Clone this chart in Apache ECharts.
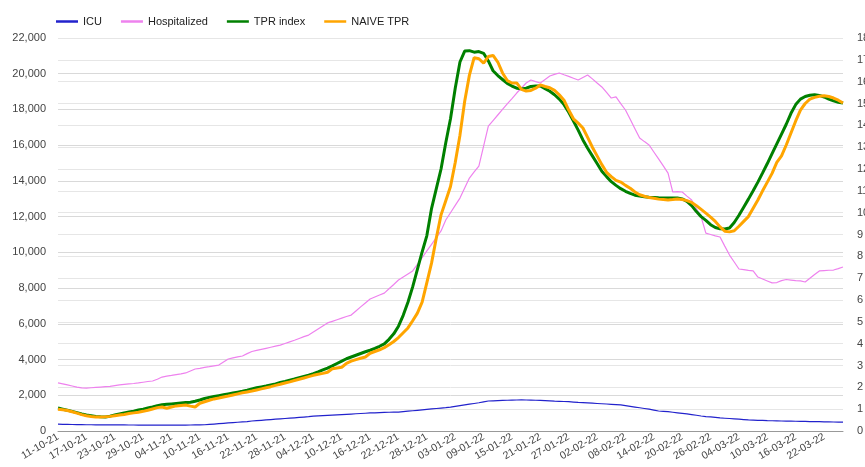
<!DOCTYPE html>
<html>
<head>
<meta charset="utf-8">
<script src="https://cdn.jsdelivr.net/npm/echarts@6/dist/echarts.min.js"></script>
<style>
  html, body { margin: 0; padding: 0; background: #fff; }
  #chart { width: 865px; height: 467px; }
</style>
</head>
<body>
<div id="chart"></div>
<script>
// daily categories, 11-10-21 .. 26-03-22
const startDate = new Date(2021, 9, 11);
const dayCount = 167;
const dates = Array.from({length: dayCount}, (_, i) => {
  const d = new Date(startDate.getFullYear(), startDate.getMonth(), startDate.getDate() + i);
  const p = n => String(n).padStart(2, '0');
  return `${p(d.getDate())}-${p(d.getMonth() + 1)}-${String(d.getFullYear()).slice(2)}`;
});

// left axis (people)
const icu = [
  380,375,370,365,360,355,350,350,345,345,340,340,340,
  340,338,336,335,333,332,330,330,330,330,330,330,330,332,334,336,338,340,
  350,370,390,410,430,450,470,490,510,530,560,
  580,600,620,640,660,680,700,720,740,760,780,800,830,
  845,860,875,890,905,920,935,950,965,980,995,1010,1020,1030,1040,1050,1055,1060,
  1085,1110,1135,1160,1185,1210,1235,1260,1285,1310,1340,
  1380,1420,1460,1500,1540,1580,1630,1680,
  1690,1700,1710,1720,1730,1735,1740,
  1735,1730,1720,1710,1700,1690,
  1670,1660,1650,1640,1620,1600,1585,1570,
  1555,1540,1525,1510,1495,1480,1460,
  1420,1380,1340,1300,1260,1220,1170,1120,
  1100,1080,1050,1020,990,960,920,880,840,
  810,790,760,730,
  715,700,680,660,640,620,
  610,600,590,580,575,570,560,
  555,550,545,540,535,530,525,520,515,510,505,500,500
];
const hospitalized = [
  2690,2640,2580,2520,2460,2410,
  2400,2420,2440,2460,
  2480,2500,2540,2580,
  2610,2640,2660,2690,
  2730,2770,2800,
  2900,3020,
  3070,3110,3160,3200,3250,
  3360,3470,
  3510,3560,3600,3650,3690,
  3860,4030,
  4090,4150,4200,
  4330,4450,
  4510,4570,4630,4690,4750,4810,
  4900,4990,5080,5180,5280,5370,
  5540,5710,5880,6050,
  6140,6230,6320,6410,6490,
  6720,6950,7170,7390,
  7500,7610,7720,
  7960,8200,8450,
  8620,8790,8960,
  9330,9700,10080,
  10450,10820,11200,
  11810,
  12220,12630,13040,
  13600,14160,
  14500,14830,
  15950,17070,
  17380,17690,
  18000,18310,18610,18920,
  19200,19480,19650,
  19560,19480,
  19680,19870,
  19960,20040,
  19940,19850,19750,19650,
  19790,19930,
  19710,19480,19260,
  18950,18640,18700,
  18330,17970,
  17450,16920,16400,
  16200,16010,
  15620,15230,14840,14440,
  13380,
  13400,13380,
  13150,12930,
  12450,11980,
  11080,
  11000,10920,10860,
  10350,9850,
  9460,9070,
  9030,8990,8960,
  8620,
  8510,8400,8290,
  8310,8420,
  8480,8450,8420,8400,8340,
  8550,8760,8960,
  8980,9000,9010,
  9090,9180
];

// right axis (index)
const tprIndex = [
  1.05,1.00,0.95,0.90,0.84,0.78,0.73,0.70,0.67,0.65,
  0.64,0.68,0.73,0.78,0.83,0.87,0.91,0.96,1.00,1.05,
  1.10,1.16,1.20,1.22,1.24,1.26,1.28,1.30,1.32,1.36,
  1.42,1.49,1.54,1.58,1.62,1.66,1.70,1.74,1.78,1.82,
  1.87,1.93,1.98,2.02,2.06,2.11,2.16,2.22,2.27,2.33,
  2.38,2.44,2.50,2.56,2.63,2.71,2.80,2.88,2.98,3.09,
  3.20,3.31,3.39,3.47,3.55,3.63,3.70,3.78,3.88,3.99,
  4.20,4.45,4.80,5.30,5.90,6.60,7.40,8.20,8.95,10.20,
  11.10,12.00,13.20,14.30,15.70,16.90,17.40,17.42,17.35,17.38,
  17.30,16.95,16.50,16.28,16.10,15.92,15.80,15.70,15.67,15.70,
  15.78,15.80,15.80,15.68,15.56,15.40,15.20,14.95,14.60,14.20,
  13.78,13.33,12.95,12.60,12.25,11.90,11.65,11.42,11.25,11.10,
  10.98,10.88,10.80,10.76,10.73,10.71,10.70,10.68,10.67,10.67,
  10.67,10.67,10.63,10.52,10.32,10.05,9.82,9.65,9.45,9.32,
  9.26,9.25,9.30,9.55,9.88,10.25,10.62,11.00,11.40,11.82,
  12.25,12.70,13.15,13.60,14.05,14.55,14.95,15.20,15.32,15.38,
  15.40,15.37,15.30,15.20,15.12,15.06,15.02
];
const naiveTpr = [
  1.00,0.97,0.94,0.88,0.82,0.75,0.70,0.66,0.64,0.64,
  0.65,0.67,0.70,0.73,0.76,0.80,0.83,0.86,0.90,0.95,
  1.01,1.07,1.10,1.04,1.10,1.15,1.17,1.19,1.14,1.10,
  1.27,1.34,1.41,1.47,1.51,1.56,1.60,1.65,1.70,1.75,
  1.79,1.83,1.88,1.93,1.98,2.03,2.09,2.14,2.20,2.25,
  2.31,2.37,2.43,2.49,2.55,2.60,2.64,2.69,2.85,2.89,
  2.92,3.10,3.20,3.27,3.33,3.39,3.56,3.64,3.72,3.82,
  3.95,4.10,4.28,4.50,4.72,5.05,5.40,5.90,6.80,7.70,
  8.84,9.90,10.55,11.20,12.30,13.55,15.10,16.30,17.10,17.05,
  16.85,17.15,17.20,16.90,16.40,16.05,15.94,15.94,15.65,15.57,
  15.60,15.70,15.85,15.78,15.72,15.60,15.40,15.15,14.70,14.30,
  14.10,13.88,13.45,13.00,12.60,12.20,11.85,11.65,11.48,11.40,
  11.25,11.12,10.95,10.82,10.75,10.69,10.66,10.62,10.60,10.58,
  10.60,10.63,10.60,10.55,10.47,10.32,10.15,9.98,9.80,9.60,
  9.35,9.15,9.12,9.17,9.38,9.60,9.82,10.20,10.58,11.00,
  11.40,11.80,12.30,12.60,13.10,13.65,14.20,14.70,15.00,15.20,
  15.28,15.33,15.35,15.32,15.25,15.15,15.02
];

const font = 'Liberation Sans, Arial, sans-serif';
const chart = echarts.init(document.getElementById('chart'));
chart.setOption({
  animation: false,
  textStyle: {fontFamily: font},
  legend: {
    left: 51, top: 11, itemWidth: 22, itemHeight: 2.5, itemGap: 19, icon: 'rect',
    textStyle: {fontSize: 11, color: '#222', fontFamily: font},
    data: ['ICU', 'Hospitalized', 'TPR index', 'NAIVE TPR']
  },
  grid: {left: 58, right: 22, top: 38, bottom: 36, containLabel: false, outerBoundsMode: 'none'},
  xAxis: {
    type: 'category', data: dates, boundaryGap: false,
    axisLine: {lineStyle: {color: '#999'}},
    axisTick: {show: false},
    axisLabel: {interval: 5, rotate: 30, fontSize: 10.5, color: '#444', margin: 5, fontFamily: font}
  },
  yAxis: [
    {type: 'value', min: 0, max: 22000, interval: 2000,
     axisLine: {show: false}, axisTick: {show: false},
     axisLabel: {fontSize: 11, color: '#444', margin: 12, fontFamily: font,
       formatter: v => v.toLocaleString('en-US')},
     splitLine: {lineStyle: {color: '#d9d9d9'}}},
    {type: 'value', min: 0, max: 18, interval: 1, position: 'right',
     axisLine: {show: false}, axisTick: {show: false},
     axisLabel: {fontSize: 11, color: '#444', margin: 14, fontFamily: font},
     splitLine: {lineStyle: {color: '#e6e6e6'}}}
  ],
  series: [
    {name: 'ICU', type: 'line', data: icu, yAxisIndex: 0, symbol: 'none',
     itemStyle: {color: '#2222cc'}, lineStyle: {width: 1.2, color: '#2222cc'}},
    {name: 'Hospitalized', type: 'line', data: hospitalized, yAxisIndex: 0, symbol: 'none',
     itemStyle: {color: '#ee82ee'}, lineStyle: {width: 1.2, color: '#ee82ee'}},
    {name: 'TPR index', type: 'line', data: tprIndex, yAxisIndex: 1, symbol: 'none',
     itemStyle: {color: '#008000'}, lineStyle: {width: 3, color: '#008000'}},
    {name: 'NAIVE TPR', type: 'line', data: naiveTpr, yAxisIndex: 1, symbol: 'none',
     itemStyle: {color: '#ffa500'}, lineStyle: {width: 3, color: '#ffa500'}}
  ]
});
</script>
</body>
</html>
